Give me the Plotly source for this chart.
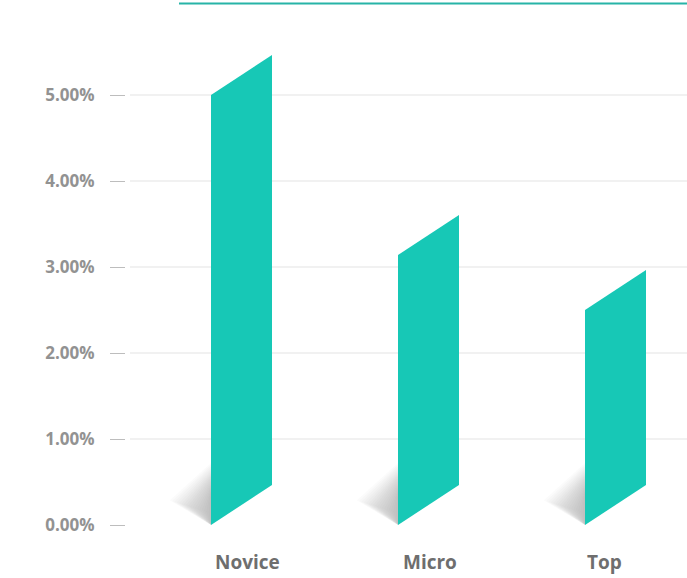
import plotly.graph_objects as go

categories = ["Novice", "Micro", "Top"]
values = [5.00, 3.14, 2.50]          # percent
tick_values = [0, 1, 2, 3, 4, 5]
tick_labels = ["0.00%", "1.00%", "2.00%", "3.00%", "4.00%", "5.00%"]

BAR_COLOR = "#17c8b6"
PX_PER_X = 187.0
PX_PER_Y = 86.0
BAR_W = 61 / PX_PER_X
SKEW = 40 / PX_PER_Y
label_shift = [6, 1, -11]

fig = go.Figure()

# shadows (soft gradient built from stacked translucent triangles)
for i, v in enumerate(values):
    L = i - BAR_W / 2
    layers = 18
    for k in range(layers):
        f = (k + 1) / layers
        w = 0.22 * f
        h = 0.72 * (0.5 + 0.5 * f)
        fig.add_trace(go.Scatter(
            x=[L, L - w, L, L], y=[0, h * 0.40, h, 0],
            mode="lines", fill="toself", line=dict(width=0),
            fillcolor="rgba(120,120,120,0.028)", hoverinfo="skip", showlegend=False))

# bars (parallelograms)
for i, v in enumerate(values):
    L = i - BAR_W / 2
    R = i + BAR_W / 2
    fig.add_trace(go.Scatter(
        x=[L, R, R, L, L], y=[0, SKEW, v + SKEW, v, 0],
        mode="lines", fill="toself", line=dict(width=0, color=BAR_COLOR),
        fillcolor=BAR_COLOR, hoverinfo="skip", showlegend=False))

W, H = 687, 578
ML, MB = 126, 53
plot_w = W - ML
plot_h = H - MB

shapes = []
for t in tick_values[1:]:
    shapes.append(dict(type="line", xref="paper", yref="y",
                       x0=(130 - ML) / plot_w, x1=1, y0=t, y1=t,
                       line=dict(color="#e3e3e3", width=1), layer="below"))
shapes.append(dict(type="line", xref="paper", yref="paper",
                   x0=(179 - ML) / plot_w, x1=1.0,
                   y0=1 - 3.5 / plot_h, y1=1 - 3.5 / plot_h,
                   line=dict(color="#27b4a7", width=2)))

annotations = []
for i, c in enumerate(categories):
    annotations.append(dict(x=i, y=(plot_h - 562) / plot_h, xref="x", yref="paper",
                            text=c, showarrow=False, xshift=label_shift[i],
                            yanchor="middle", xanchor="center",
                            font=dict(family="Open Sans", size=19, color="#6e6e6e", weight="bold")))

x0 = -(241.5 - ML) / PX_PER_X
x1 = (W - 241.5) / PX_PER_X
fig.update_layout(
    width=W, height=H,
    margin=dict(l=ML, r=0, t=0, b=MB),
    paper_bgcolor="white", plot_bgcolor="white",
    xaxis=dict(range=[x0, x1], showgrid=False, zeroline=False, showticklabels=False,
               showline=False, fixedrange=True),
    yaxis=dict(range=[0, plot_h / PX_PER_Y], showgrid=False, zeroline=False,
               tickvals=tick_values, ticktext=tick_labels,
               ticks="outside", ticklen=15, tickcolor="#bdbdbd", tickwidth=1,
               ticklabelstandoff=12,
               tickfont=dict(family="Open Sans", size=17, color="#929292", weight="bold"),
               showline=False, fixedrange=True),
    shapes=shapes, annotations=annotations,
)

fig.write_html("out.html", config={"displayModeBar": False, "staticPlot": True},
               post_script="document.body.style.margin='0';document.body.style.overflow='hidden';")
